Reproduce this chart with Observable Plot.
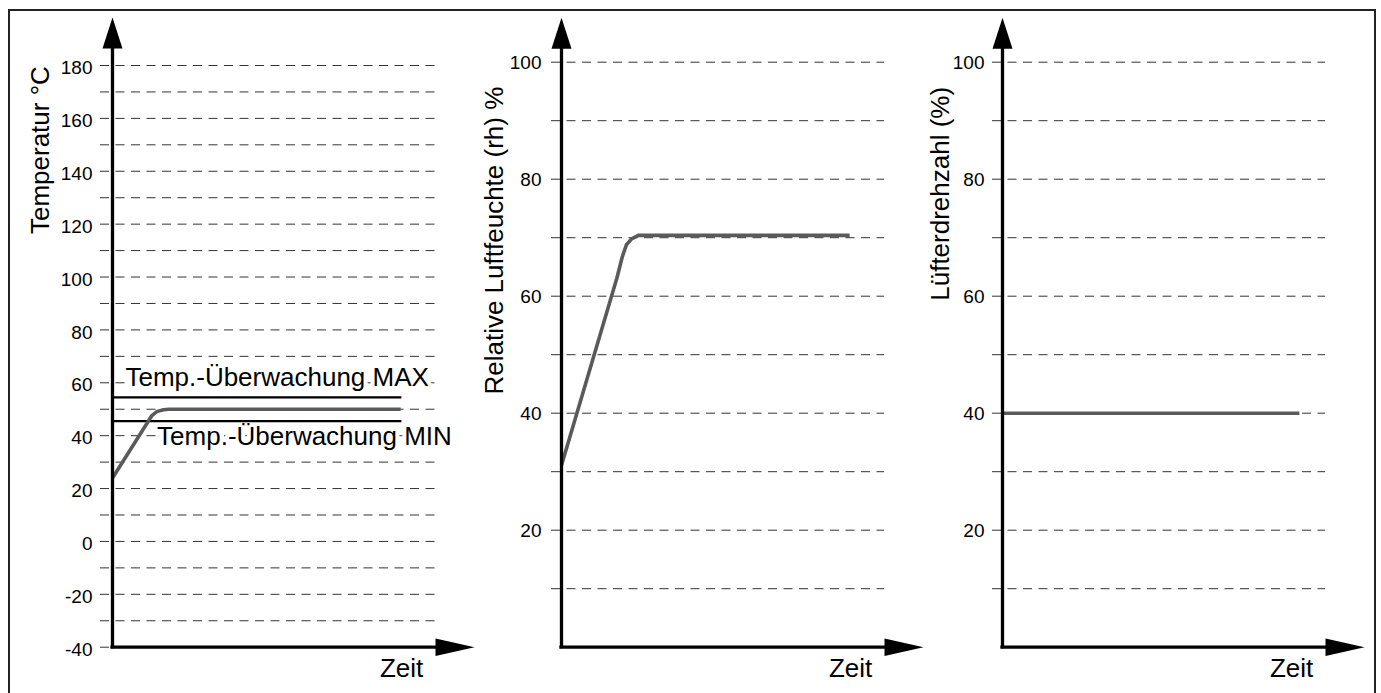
<!DOCTYPE html>
<html>
<head>
<meta charset="utf-8">
<script src="https://cdn.jsdelivr.net/npm/d3@7"></script>
<script src="https://cdn.jsdelivr.net/npm/@observablehq/plot@0.6"></script>
<style>
  html, body { margin: 0; padding: 0; background: #fff; overflow: hidden; }
  #wrap { position: relative; width: 1381px; height: 693px; overflow: hidden;
          font-family: "Liberation Sans", Arial, Helvetica, sans-serif; }
  #frame { position: absolute; left: 8px; top: 9px; width: 1368px; height: 720px;
           border: 2px solid #222; box-sizing: border-box; }
</style>
</head>
<body>
<div id="wrap"><div id="frame"></div></div>
<script>
// ---------- data ----------
// Panel 1: Temperatur
const tempTime  = [0, 12.2, 13.7, 15.8, 17.4, 89.2];
const tempValue = [24, 47.6, 49.1, 49.8, 50, 50];
const tempLimits = [54.5, 45.5];                 // MAX, MIN
const tempLimitLabels = ["Temp.-Überwachung MAX", "Temp.-Überwachung MIN"];
const tempLimitLabelX = [4, 13.8];
const tempLimitEnd = 89.6;
const tempTicks = [-40, -20, 0, 20, 40, 60, 80, 100, 120, 140, 160, 180];
const tempGrid  = [-40, -30, -20, -10, 0, 10, 20, 30, 40, 50, 60, 70, 80, 90, 100, 110, 120, 130, 140, 150, 160, 170, 180];

// Panel 2: Relative Luftfeuchte
const humTime  = [0, 17.2, 18.8, 20.1, 21.7, 23.8, 89.2];
const humValue = [31.1, 63.2, 66.7, 68.8, 69.8, 70.4, 70.4];

// Panel 3: Lüfterdrehzahl
const fanTime  = [0, 91.9];
const fanValue = [40, 40];

const pctTicks = [20, 40, 60, 80, 100];
const pctGrid  = [10, 20, 30, 40, 50, 60, 70, 80, 90, 100];

const titles = ["Temperatur °C", "Relative Luftfeuchte (rh) %", "Lüfterdrehzahl (%)"];
const xLabel = "Zeit";

// ---------- drawing ----------
const FONT = '"Liberation Sans", Arial, Helvetica, sans-serif';
const upHead = { draw(ctx) { ctx.moveTo(-10, 0); ctx.lineTo(10, 0); ctx.lineTo(0, -31); ctx.closePath(); } };
const rightHead = { draw(ctx) { ctx.moveTo(0, -8.75); ctx.lineTo(0, 8.75); ctx.lineTo(39, 0); ctx.closePath(); } };

function panel(cfg) {
  const rows = cfg.t.map((t, i) => ({t, v: cfg.v[i]}));
  const y0 = cfg.yDomain[0];
  const marks = [
    Plot.ruleY(cfg.grid, {x1: 0, x2: 100, insetLeft: -cfg.gridLead, stroke: "#333", strokeWidth: 1, strokeDasharray: "9,6.5"}),
    ...(cfg.extrasBelow || []),
    Plot.line(rows, {x: "t", y: "v", stroke: "#5a5a5a", strokeWidth: 3.6, curve: "linear", strokeLinecap: "butt"}),
    Plot.ruleX([0], {y1: y0, y2: cfg.yArrowBase, stroke: "#000", strokeWidth: 3.3, strokeLinecap: "square"}),
    Plot.ruleY([y0], {x1: 0, x2: 100, stroke: "#000", strokeWidth: 3.3, strokeLinecap: "square"}),
    Plot.dot([cfg.yArrowBase], {x: () => 0, y: d => d, symbol: upHead, fill: "#000", stroke: null}),
    Plot.dot([y0], {x: () => 100, y: d => d, symbol: rightHead, fill: "#000", stroke: null}),
    Plot.axisY(cfg.ticks, {tickSize: 0, tickPadding: cfg.tickPad, fontSize: 19, dy: cfg.tickDy, label: null,
      tickFormat: d => String(d)}),
    Plot.text([cfg.title], {frameAnchor: "left", y: () => cfg.titleY, text: d => d, rotate: -90,
      textAnchor: "middle", lineAnchor: "bottom", dx: cfg.titleDx, fontSize: 26, fill: "#000"}),
    Plot.text([xLabel], {x: () => 82.8, y: () => y0, text: d => d, dy: 30,
      textAnchor: "start", lineAnchor: "bottom", fontSize: 26, fill: "#000"})
  ];
  const svg = Plot.plot({
    width: 475, height: 693,
    marginLeft: 100, marginRight: 52, marginTop: cfg.marginTop, marginBottom: 46.3,
    x: {domain: [0, 100], axis: null},
    y: {domain: cfg.yDomain},
    style: {background: "transparent", overflow: "visible", fontFamily: FONT, color: "#000"},
    marks
  });
  svg.style.position = "absolute";
  svg.style.left = cfg.left + "px";
  svg.style.top = "0px";
  svg.style.maxWidth = "none";
  document.getElementById("wrap").append(svg);
}

const limitRows = tempLimits.map((v, i) => ({v, label: tempLimitLabels[i], x: tempLimitLabelX[i]}));

panel({
  left: 12, yDomain: [-40, 180], marginTop: 65,
  t: tempTime, v: tempValue, grid: tempGrid, ticks: tempTicks,
  gridLead: 12, tickPad: 20, tickDy: 2.5,
  yArrowBase: 186.4,
  title: titles[0], titleY: 148, titleDx: -64,
  extrasBelow: [
    Plot.text([limitRows[0]], {x: "x", y: "v", text: "label", dy: -11.7, textAnchor: "start", lineAnchor: "bottom",
      fontSize: 26, fill: "#000", stroke: "white", strokeWidth: 8, paintOrder: "stroke", strokeLinejoin: "round"}),
    Plot.text([limitRows[1]], {x: "x", y: "v", text: "label", dy: 24.3, textAnchor: "start", lineAnchor: "bottom",
      fontSize: 26, fill: "#000", stroke: "white", strokeWidth: 8, paintOrder: "stroke", strokeLinejoin: "round"}),
    Plot.ruleY(limitRows, {y: "v", x1: () => 0.6, x2: () => tempLimitEnd, stroke: "#000", strokeWidth: 2.2})
  ]
});

panel({
  left: 461, yDomain: [0, 100], marginTop: 61.7,
  t: humTime, v: humValue, grid: pctGrid, ticks: pctTicks,
  gridLead: 10, tickPad: 20, tickDy: 1,
  yArrowBase: 102.3,
  title: titles[1], titleY: 69.5, titleDx: -59
});

panel({
  left: 902, yDomain: [0, 100], marginTop: 61.7,
  t: fanTime, v: fanValue, grid: pctGrid, ticks: pctTicks,
  gridLead: 10, tickPad: 18, tickDy: 1,
  yArrowBase: 102.3,
  title: titles[2], titleY: 77.5, titleDx: -54
});
</script>
</body>
</html>
